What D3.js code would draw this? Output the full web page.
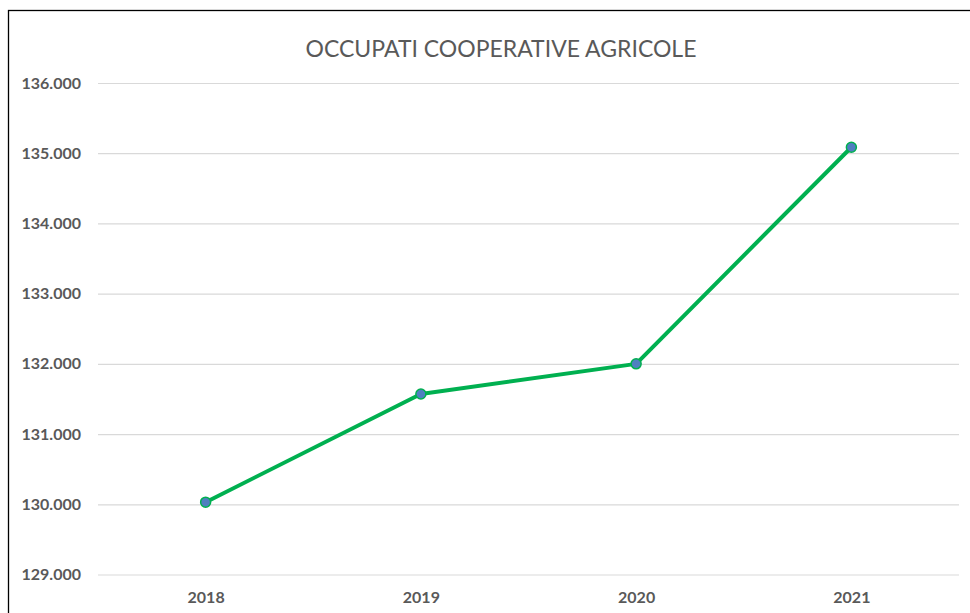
<!DOCTYPE html>
<html>
<head>
<meta charset="utf-8">
<script src="https://cdn.jsdelivr.net/npm/d3@7"></script>
<style>
    body { margin: 0; background: #fff; }
    svg { display: block; }
</style>
</head>
<body>
<div id="chart"></div>
<script>
// data
const years = ["2018", "2019", "2020", "2021"];
const occupati = [130030, 131570, 132000, 135085];
const yTicks = [129000, 130000, 131000, 132000, 133000, 134000, 135000, 136000];

const W = 970, H = 613;
const plot = {left: 98, right: 959, top: 83, bottom: 574.5};

const it = d3.formatLocale({decimal: ",", thousands: ".", grouping: [3], currency: ["", " €"]});
const fmt = it.format(",.0f");

let svg = d3.select("#chart")
    .append("svg")
    .attr("width", W)
    .attr("height", H);

svg.append("rect")
    .attr("width", W).attr("height", H)
    .attr("fill", "#fff");

// chart frame (cropped on right and bottom)
svg.append("rect")
    .attr("x", 8.5).attr("y", 10.5)
    .attr("width", 1000).attr("height", 700)
    .attr("fill", "none")
    .attr("stroke", "#000")
    .attr("stroke-width", 1.3);

let x = d3.scalePoint()
    .domain(years)
    .range([plot.left, plot.right])
    .padding(0.5);

let y = d3.scaleLinear()
    .domain([129000, 136000])
    .range([plot.bottom, plot.top]);

// Y axis with gridlines
let yAxis = svg.append("g")
    .attr("transform", "translate(" + plot.left + ",0)")
    .call(d3.axisLeft(y)
        .tickValues(yTicks)
        .tickFormat(fmt)
        .tickSizeInner(-(plot.right - plot.left))
        .tickSizeOuter(0)
        .tickPadding(17));
yAxis.select(".domain").remove();
yAxis.selectAll(".tick line")
    .attr("stroke", "#d9d9d9")
    .attr("stroke-width", 1.2);
yAxis.selectAll(".tick text")
    .attr("fill", "#595959")
    .style("font-family", "Lato, 'Open Sans', sans-serif")
    .style("font-weight", "bold")
    .style("font-size", "16px");

// X axis
let xAxis = svg.append("g")
    .attr("transform", "translate(0," + plot.bottom + ")")
    .call(d3.axisBottom(x).tickSize(0).tickPadding(17));
xAxis.select(".domain").remove();
xAxis.selectAll(".tick text")
    .attr("fill", "#595959")
    .style("font-family", "Lato, 'Open Sans', sans-serif")
    .style("font-weight", "bold")
    .style("font-size", "16px");

// title
svg.append("text")
    .attr("x", 501)
    .attr("y", 57)
    .attr("text-anchor", "middle")
    .attr("fill", "#595959")
    .style("font-family", "Lato, 'Open Sans', sans-serif")
    .style("font-size", "23px")
    .text("OCCUPATI COOPERATIVE AGRICOLE");

let data = years.map((d, i) => [d, occupati[i]]);

// the line
svg.append("path")
    .datum(data)
    .attr("fill", "none")
    .attr("stroke", "#00b050")
    .attr("stroke-width", 4)
    .attr("stroke-linejoin", "round")
    .attr("d", d3.line()
        .x(d => x(d[0]))
        .y(d => y(d[1])));

// markers
svg.append("g")
    .selectAll("circle")
    .data(data)
    .enter()
    .append("circle")
    .attr("cx", d => x(d[0]))
    .attr("cy", d => y(d[1]))
    .attr("r", 5)
    .attr("fill", "#4f7fc0")
    .attr("stroke", "#00b050")
    .attr("stroke-width", 1.5);
</script>
</body>
</html>
